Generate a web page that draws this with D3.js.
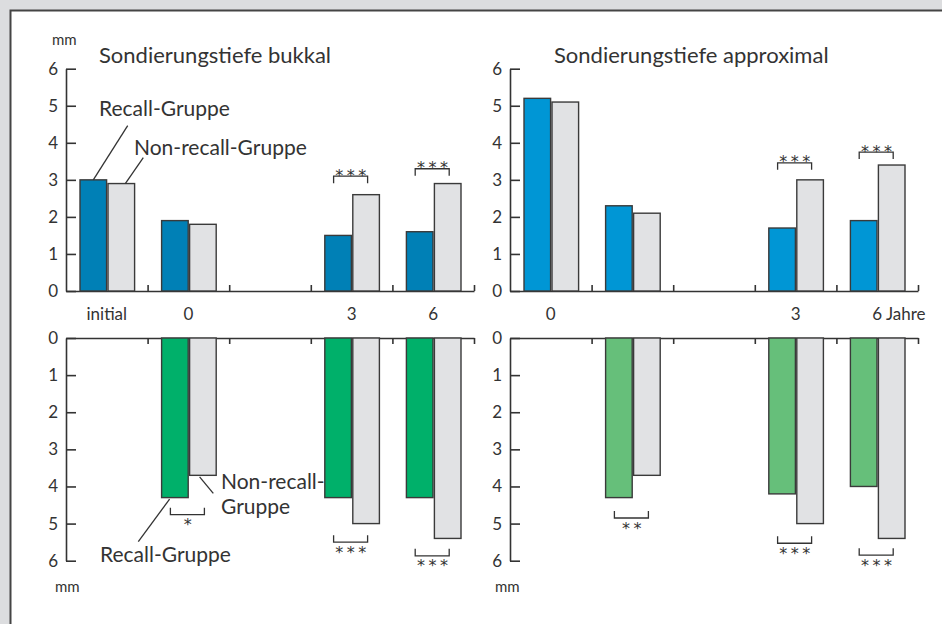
<!DOCTYPE html>
<html>
<head>
<meta charset="utf-8">
<script src="https://cdn.jsdelivr.net/npm/d3@7"></script>
<style>
  body { margin: 0; background: #dcdddf; overflow: hidden; }
  svg { display: block; }
  text { font-family: Lato, sans-serif; fill: #333; }
</style>
</head>
<body>
<div id="chart"></div>
<script>
// slots along the time axis (third slot is empty in the original)
const slotsLeft = ["initial", "0", "1", "3", "6"];
const slotsRight = ["0", "1", "2", "3", "6"];
const labelsLeft = ["initial", "0", "", "3", "6"];
const labelsRight = ["0", "", "", "3", "6 Jahre"];
const yTicks = [0, 1, 2, 3, 4, 5, 6];

// Sondierungstiefe (mm), upper panels
const recallBukkalTop = [3.0, 1.9, null, 1.5, 1.6];
const nonBukkalTop = [2.9, 1.8, null, 2.6, 2.9];
const recallApproxTop = [5.2, 2.3, null, 1.7, 1.9];
const nonApproxTop = [5.1, 2.1, null, 3.0, 3.4];

// lower panels (drawn downward)
const recallBukkalBottom = [null, 4.3, null, 4.3, 4.3];
const nonBukkalBottom = [null, 3.7, null, 5.0, 5.4];
const recallApproxBottom = [0, 4.3, null, 4.2, 4.0];
const nonApproxBottom = [0, 3.7, null, 5.0, 5.4];

// significance brackets: slot index, level in mm, stars
const sigBukkalTop = [[3, 3.1, "***"], [4, 3.3, "***"]];
const sigApproxTop = [[3, 3.46, "***"], [4, 3.75, "***"]];
const sigBukkalBottom = [[1, 4.76, "*"], [3, 5.5, "***"], [4, 5.87, "***"]];
const sigApproxBottom = [[1, 4.85, "**"], [3, 5.53, "***"], [4, 5.85, "***"]];

const W = 942, H = 624;
const svg = d3.select("#chart").append("svg").attr("width", W).attr("height", H);

// white sheet with dark top/left rule
svg.append("rect").attr("x", 10).attr("y", 10).attr("width", W - 10).attr("height", H - 10).attr("fill", "#fff");
svg.append("path").attr("d", `M10.5,${H} V10.5 H${W}`).attr("fill", "none").attr("stroke", "#444").attr("stroke-width", 2);

function drawPanel(opt) {
    var x = d3.scaleBand().domain(opt.slots).range([opt.x0, opt.x1]);
    var sub = d3.scaleBand().domain(["recall", "non"]).range([14, 68.6]).paddingInner(0.05);
    var y = d3.scaleLinear().domain([0, 6]).range(opt.down ? [338, 560.7] : [291, 68.7]);
    var g = svg.append("g");

    // y axis, ticks pointing into the plot
    g.append("g")
        .attr("transform", "translate(" + opt.x0 + ",0)")
        .call(d3.axisLeft(y).tickValues(yTicks).tickFormat(d3.format("d")).tickSizeInner(-10).tickSizeOuter(0).tickPadding(8))
        .call(a => a.selectAll("line, path").attr("stroke", "#333").attr("stroke-width", 1.6))
        .call(a => a.selectAll("text").attr("font-size", 17).attr("fill", "#333").style("font-family", "Lato"));

    // baseline with short ticks at slot boundaries
    var xl = d3.scaleLinear().domain([0, opt.slots.length]).range([opt.x0, opt.x1]);
    g.append("g")
        .attr("transform", "translate(0," + y(0) + ")")
        .call(d3.axisBottom(xl).tickValues([1, 2, 3, 4, 5]).tickFormat("").tickSizeInner(opt.down ? 6 : -6).tickSizeOuter(0))
        .call(a => a.selectAll("line, path").attr("stroke", "#333").attr("stroke-width", 1.6));

    // bars
    var rows = [];
    opt.slots.forEach((s, i) => {
        if (opt.recall[i] != null) rows.push({ slot: s, grp: "recall", v: opt.recall[i] });
        if (opt.non[i] != null) rows.push({ slot: s, grp: "non", v: opt.non[i] });
    });
    g.selectAll("rect.bar").data(rows).enter().append("rect")
        .attr("class", "bar")
        .attr("x", d => x(d.slot) + sub(d.grp))
        .attr("width", sub.bandwidth())
        .attr("y", d => Math.min(y(0), y(d.v)))
        .attr("height", d => Math.abs(y(d.v) - y(0)))
        .attr("fill", d => d.grp == "recall" ? opt.color : "#e1e2e4")
        .attr("stroke", "#3a3a3a")
        .attr("stroke-width", 1.4);

    // x labels
    if (opt.labels) {
        opt.labels.forEach((t, i) => {
            if (!t) return;
            var cx = x(opt.slots[i]) + x.bandwidth() / 2;
            var last = t.indexOf(" ") > 0;
            g.append("text")
                .attr("x", last ? cx - 5 : cx)
                .attr("y", 320)
                .attr("text-anchor", last ? "start" : "middle")
                .attr("font-size", 17)
                .text(t);
        });
    }

    // significance brackets
    opt.sig.forEach(s => {
        var cx = x(opt.slots[s[0]]) + x.bandwidth() / 2 - 1;
        var by = y(s[1]);
        var leg = opt.down ? -7 : 7;
        g.append("path")
            .attr("d", `M${cx - 17},${by + leg} V${by} H${cx + 17} V${by + leg}`)
            .attr("fill", "none").attr("stroke", "#333").attr("stroke-width", 1.3);
        g.append("text")
            .attr("x", cx + 2)
            .attr("y", opt.down ? by + 15.5 : by + 4.5)
            .attr("text-anchor", "middle")
            .attr("font-size", 16)
            .attr("letter-spacing", 3.5)
            .style("font-family", "DejaVu Sans")
            .text(s[2]);
    });

    return { x: x, sub: sub, y: y, g: g };
}

var tl = drawPanel({ slots: slotsLeft, labels: labelsLeft, x0: 66, x1: 474, recall: recallBukkalTop, non: nonBukkalTop, color: "#0080b6", sig: sigBukkalTop });
var tr = drawPanel({ slots: slotsRight, labels: labelsRight, x0: 510, x1: 918, recall: recallApproxTop, non: nonApproxTop, color: "#0096d5", sig: sigApproxTop });
var bl = drawPanel({ slots: slotsLeft, x0: 66, x1: 474, down: true, recall: recallBukkalBottom, non: nonBukkalBottom, color: "#00b06a", sig: sigBukkalBottom });
var br = drawPanel({ slots: slotsRight, x0: 510, x1: 918, down: true, recall: recallApproxBottom, non: nonApproxBottom, color: "#66bf7a", sig: sigApproxBottom });

function label(x, y, txt, size) {
    svg.append("text").attr("x", x).attr("y", y).attr("font-size", size).text(txt);
}
function leader(x1, y1, x2, y2) {
    svg.append("line").attr("x1", x1).attr("y1", y1).attr("x2", x2).attr("y2", y2)
        .attr("stroke", "#333").attr("stroke-width", 1.3);
}

// titles and units
label(99, 63, "Sondierungstiefe bukkal", 22);
label(554, 63, "Sondierungstiefe approximal", 22);
label(52, 45, "mm", 15);
label(55, 592, "mm", 15);
label(495, 592, "mm", 15);

// group annotations, anchored to the first bars
var rx = tl.x("initial") + tl.sub("recall") + tl.sub.bandwidth() / 2;
var nx = tl.x("initial") + tl.sub("non") + tl.sub.bandwidth() / 2;
label(99, 116, "Recall-Gruppe", 21);
label(134, 155, "Non-recall-Gruppe", 21);
leader(127.7, 125.7, rx, tl.y(recallBukkalTop[0]));
leader(143.3, 157.7, nx + 4, tl.y(nonBukkalTop[0]));

var brx = bl.x("0") + bl.sub("recall") + 8;
var bnx = bl.x("0") + bl.sub("non") + 10;
label(221, 489, "Non-recall-", 21);
label(221, 514, "Gruppe", 21);
label(100, 562, "Recall-Gruppe", 21);
leader(138.3, 541.7, brx, bl.y(recallBukkalBottom[1]) + 1.5);
leader(213.3, 493.3, bnx, bl.y(nonBukkalBottom[1]) + 1.5);
</script>
</body>
</html>
